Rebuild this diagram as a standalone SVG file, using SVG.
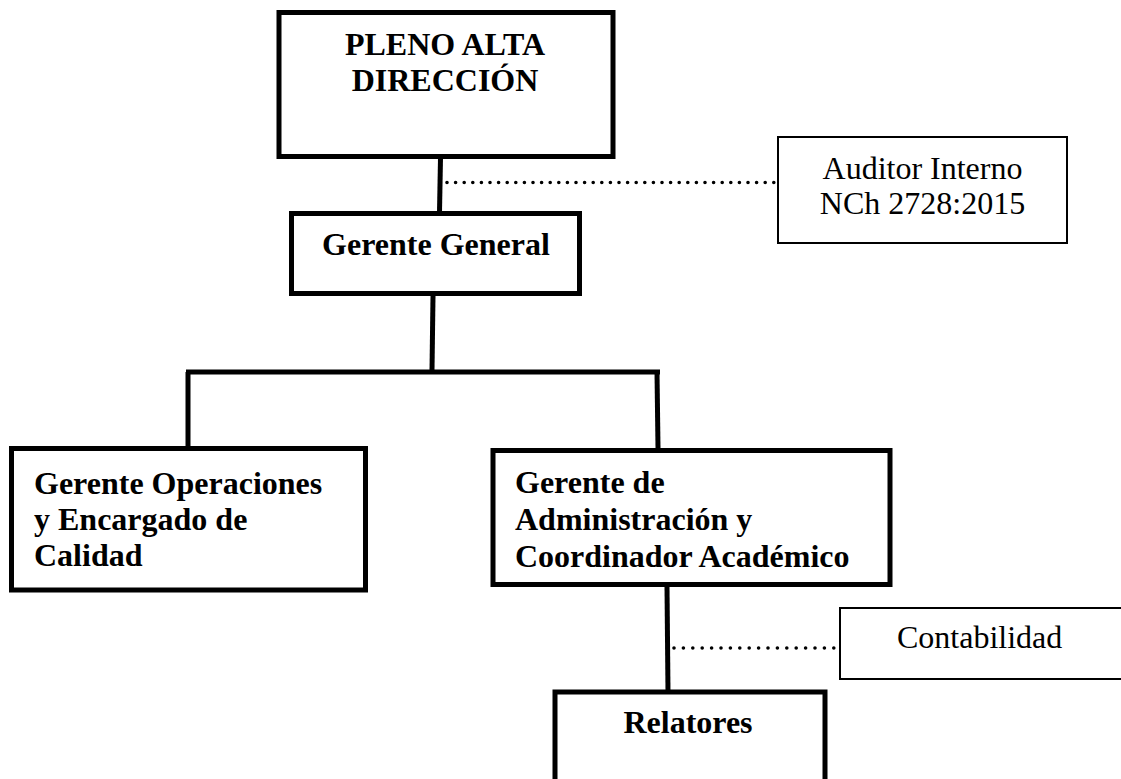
<svg xmlns="http://www.w3.org/2000/svg" width="1121" height="779" viewBox="0 0 1121 779">
<style>
.thick{fill:#fff;stroke:#000;stroke-width:5}
.thin{fill:#fff;stroke:#000;stroke-width:2}
.conn{stroke:#000;stroke-width:5;fill:none}
.dot{stroke:#000;stroke-width:3.6;stroke-linecap:round;fill:none}
.b{font-family:"Liberation Serif","Times New Roman",serif;font-weight:bold;font-size:32px;fill:#000}
.r{font-family:"Liberation Serif","Times New Roman",serif;font-size:32px;fill:#000}
</style>
<rect width="1121" height="779" fill="#fff"/>
<g id="connectors">
<line class="conn" x1="440.5" y1="158" x2="439.5" y2="212"/>
<line class="dot" x1="447" y1="182.5" x2="776" y2="182.5" stroke-dasharray="0 8.6"/>
<line class="conn" x1="433" y1="296" x2="432" y2="370"/>
<line class="conn" x1="186" y1="372" x2="660" y2="372"/>
<line class="conn" x1="188" y1="372" x2="188" y2="446"/>
<line class="conn" x1="657" y1="372" x2="658" y2="448"/>
<line class="conn" x1="667" y1="587" x2="668" y2="692"/>
<line class="dot" x1="674" y1="648" x2="834" y2="648" stroke-dasharray="0 9.4"/>
</g>
<g id="pleno">
<rect class="thick" x="279" y="12.5" width="334" height="144"/>
<text class="b" x="445" y="55" text-anchor="middle">PLENO ALTA</text>
<text class="b" x="445" y="91" text-anchor="middle">DIRECCIÓN</text>
</g>
<g id="auditor">
<rect class="thin" x="778" y="137" width="289" height="106"/>
<text class="r" x="922.5" y="179" text-anchor="middle">Auditor Interno</text>
<text class="r" x="922.5" y="214" text-anchor="middle">NCh 2728:2015</text>
</g>
<g id="gerente-general">
<rect class="thick" x="291.5" y="213.5" width="288" height="80"/>
<text class="b" x="436" y="255" text-anchor="middle">Gerente General</text>
</g>
<g id="gerente-operaciones">
<rect class="thick" x="11.5" y="448.5" width="354" height="141.5"/>
<text class="b" x="34" y="494">Gerente Operaciones</text>
<text class="b" x="34" y="530">y Encargado de</text>
<text class="b" x="34" y="566">Calidad</text>
</g>
<g id="gerente-administracion">
<rect class="thick" x="493" y="450.5" width="397" height="134"/>
<text class="b" x="515" y="493">Gerente de</text>
<text class="b" x="515" y="530">Administración y</text>
<text class="b" x="515" y="567">Coordinador Académico</text>
</g>
<g id="contabilidad">
<rect class="thin" x="840" y="608" width="300" height="71"/>
<text class="r" x="897" y="648">Contabilidad</text>
</g>
<g id="relatores">
<rect class="thick" x="555" y="692" width="270" height="120"/>
<text class="b" x="688" y="733" text-anchor="middle">Relatores</text>
</g>
</svg>
